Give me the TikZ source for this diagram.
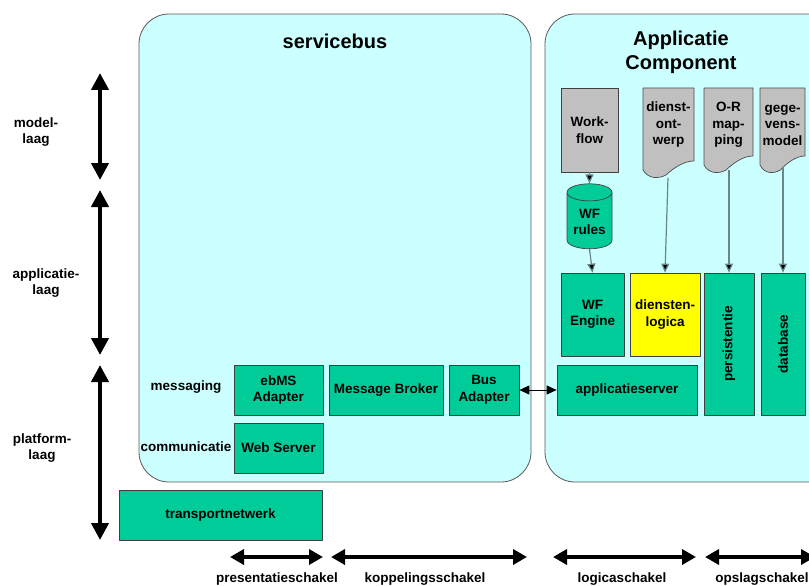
\documentclass[tikz,border=0pt]{standalone}
\usepackage{fontspec}
\setmainfont{Liberation Sans}
\usepackage{tikz}
\usetikzlibrary{arrows.meta,shapes.geometric,calc}
\usepackage{graphicx}
\usepackage{xcolor}
\definecolor{panelblue}{HTML}{CCFFFF}
\definecolor{tealbox}{HTML}{00CC99}
\definecolor{graybox}{HTML}{C0C0C0}
\definecolor{yellowbox}{HTML}{FFFF00}
\definecolor{linkgray}{HTML}{668888}

\tikzset{
 panel/.style={draw=black!65, fill=panelblue, line width=0.8pt, rounded corners=30pt},
 comp/.style={draw=black!75, fill=tealbox, line width=0.7pt, align=center, inner sep=1pt},
 model/.style={comp, fill=graybox},
 logic/.style={comp, fill=yellowbox},
 doctext/.style={align=center, inner sep=0pt},
 layer/.style={line width=4pt, {Triangle[width=17pt,length=17pt]}-{Triangle[width=17pt,length=17pt]}},
 link/.style={line width=3.5pt, {Triangle[width=15pt,length=14pt]}-{Triangle[width=15pt,length=14pt]}},
 feed/.style={draw=linkgray, line width=1.2pt, -{Triangle[width=8pt,length=9pt,fill=black]}},
}

% document shape: #1 left, #2 top, #3 width, #4 lowest point
\newcommand{\docshape}[4]{%
 \draw[draw=black!70, fill=graybox, line width=0.7pt]
 (#1,#2) -- ({#1+#3},#2) -- ({#1+#3},{#4-17})
 .. controls ({#1+0.8*#3},{#4-17}) and ({#1+0.6*#3},{#4-10}) .. ({#1+0.45*#3},{#4-3})
 .. controls ({#1+0.3*#3},{#4+1}) and ({#1+0.1*#3},{#4+1}) .. (#1,{#4-8})
 -- cycle;}

\begin{document}
\begin{tikzpicture}[x=1pt, y=-1pt, line join=round, >=stealth,
 font=\bfseries\fontsize{13.5}{16.5}\selectfont]
 \clip (0,0) rectangle (809,586);
 \fill[white] (0,0) rectangle (809,586);

 % panels
 \draw[panel] (139,14) rectangle (531,482);
 \draw[panel] (545,14) rectangle (840,482);
 \node[font=\bfseries\fontsize{20}{24}\selectfont] (sbtitle) at (335,41) {servicebus};
 \node[font=\bfseries\fontsize{20}{24}\selectfont, align=center] (actitle) at (681,52) {Applicatie\\Component};

 % layers
 \coordinate (m1) at (100,73); \coordinate (m2) at (100,180);
 \coordinate (a1) at (100,190); \coordinate (a2) at (100,355);
 \coordinate (p1) at (100,365); \coordinate (p2) at (100,540);
 \draw[layer] (m1) -- (m2);
 \draw[layer] (a1) -- (a2);
 \draw[layer] (p1) -- (p2);
 \node[align=center] (modellaag) at (36,132) {model-\\laag};
 \node[align=center] (applaag) at (46,283) {applicatie-\\laag};
 \node[align=center] (platlaag) at (42,448) {platform-\\laag};

 % servicebus
 \node (messaging) at (186,387) {messaging};
 \node (communicatie) at (186,447) {communicatie};
 \node[comp, minimum width=89, minimum height=50] (ebms) at (278.5,390) {ebMS\\Adapter};
 \node[comp, minimum width=114, minimum height=50] (broker) at (386,390) {Message Broker};
 \node[comp, minimum width=70, minimum height=50] (busadapter) at (484,390) {Bus\\Adapter};
 \node[comp, minimum width=89, minimum height=50] (webserver) at (278.5,448) {Web Server};
 \node[comp, minimum width=203, minimum height=50] (transport) at (220.5,515) {transportnetwerk};

 % applicatie component
 \node[comp, minimum width=140, minimum height=50] (appserver) at (627,390) {applicatieserver};
 \node[comp, minimum width=63, minimum height=83] (wfengine) at (592.5,314.5) {WF\\Engine};
 \node[logic, minimum width=70, minimum height=83] (logica) at (665,314.5) {diensten-\\logica};
 \node[comp, minimum width=50, minimum height=142] (persist) at (729,344) {\rotatebox{90}{persistentie}};
 \node[comp, minimum width=44, minimum height=142] (database) at (783,344) {\rotatebox{90}{database}};

 \node[model, minimum width=57, minimum height=84] (workflow) at (589.5,130) {Work-\\flow};
 \node[comp, cylinder, shape border rotate=90, aspect=0.5,
 minimum width=45, minimum height=65] (wfrules) at (589.5,222) {WF\\rules};

 \docshape{643}{88}{51}{178}
 \docshape{704}{88}{49}{173}
 \docshape{760}{88}{45}{173}
 \node[doctext] (ontwerp) at (668.5,125) {dienst-\\ont-\\werp};
 \node[doctext] (ormap) at (728.5,125) {O-R\\map-\\ping};
 \node[doctext] (gegevens) at (782.5,125) {gege-\\vens-\\model};

 \draw[feed] (workflow) -- (wfrules);
 \draw[feed] (wfrules.bottom) -- (wfengine.north);
 \draw[feed] (668,178) -- (logica.north);
 \draw[feed] (729,170) -- (persist.north);
 \draw[feed] (783,168) -- (database.north);
 \draw[line width=1pt, {Triangle[width=9pt,length=10pt]}-{Triangle[width=9pt,length=10pt]}]
 (busadapter) -- (appserver);

 % schakels
 \coordinate (ps1) at (230,557); \coordinate (ps2) at (323,557);
 \coordinate (ks1) at (331,557); \coordinate (ks2) at (527,557);
 \coordinate (ls1) at (553,557); \coordinate (ls2) at (696,557);
 \coordinate (os1) at (705,557); \coordinate (os2) at (815,557);
 \draw[link] (ps1) -- (ps2);
 \draw[link] (ks1) -- (ks2);
 \draw[link] (ls1) -- (ls2);
 \draw[link] (os1) -- (os2);
 \node (presentatie) at (277,579) {presentatieschakel};
 \node (koppeling) at (425,579) {koppelingsschakel};
 \node (logicasch) at (622,579) {logicaschakel};
 \node (opslag) at (762,579) {opslagschakel};
\end{tikzpicture}
\end{document}
